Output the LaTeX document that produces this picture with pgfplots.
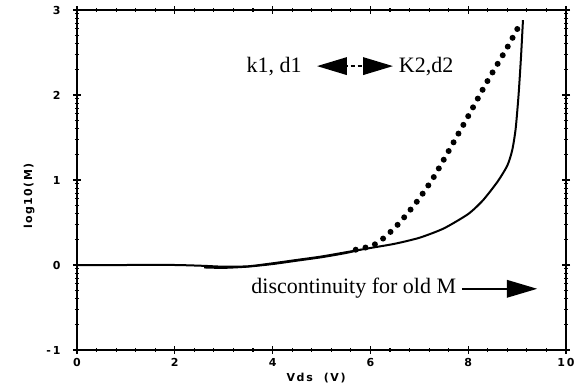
\documentclass[border=0pt]{standalone}
\usepackage{fontspec}
\setmainfont{Liberation Serif}
\setsansfont{DejaVu Sans}
\usepackage{pgfplots}
\pgfplotsset{compat=1.18}
\usetikzlibrary{arrows.meta}
\begin{document}
\begin{tikzpicture}
\path[use as bounding box] (-77pt,-36pt) rectangle (505pt,350pt);
\begin{axis}[
  at={(0,0)}, anchor=south west,
  scale only axis, width=489pt, height=340pt,
  xmin=0, xmax=10, ymin=-1, ymax=3,
  xtick={0,2,4,6,8,10}, xticklabels={0,2,4,6,8,{1\,0}},
  ytick={-1,0,1,2,3}, yticklabels={{-\,1},0,1,2,3},
  minor x tick num=4,
  minor ytick={-0.699,-0.523,-0.398,-0.301,-0.222,-0.155,-0.097,-0.046,
               0.301,0.477,0.602,0.699,0.778,0.845,0.903,0.954,
               1.301,1.477,1.602,1.699,1.778,1.845,1.903,1.954,
               2.301,2.477,2.602,2.699,2.778,2.845,2.903,2.954},
  tick align=center, major tick length=8pt, minor tick length=4pt,
  axis line style={line width=1.4pt},
  every tick/.style={line width=1.1pt, black},
  tick label style={font=\sffamily\bfseries\fontsize{11}{13}\selectfont},
  xticklabel style={yshift=-1pt},
  yticklabel style={xshift=-9pt},
  xlabel={\addfontfeature{LetterSpace=15}Vds\ \ (V)},
  ylabel={\addfontfeature{LetterSpace=12}log10(M)},
  label style={font=\sffamily\bfseries\fontsize{11}{13}\selectfont},
  xlabel style={at={(axis description cs:0.489,0)}, anchor=center, yshift=-28pt},
  ylabel style={at={(axis description cs:-0.098,0.453)}, anchor=center},
  clip=false,
]
\addplot[line width=2pt, smooth, tension=0.4] coordinates {
  (0,0) (1,0) (2,0) (2.6,-0.01) (3,-0.02) (3.5,-0.015) (4,0.02) (4.5,0.06)
  (5,0.1) (5.5,0.15) (6,0.2) (6.5,0.25) (7,0.32) (7.5,0.43) (8,0.6)
  (8.3,0.76) (8.6,0.98) (8.8,1.17) (8.9,1.35) (8.97,1.6) (9.03,2.0) (9.08,2.45) (9.12,2.88)
};
\addplot[line width=1.8pt, smooth, tension=0.4] coordinates {
  (2.6,-0.03) (3,-0.035) (3.5,-0.02) (4,0.01) (4.5,0.05) (5,0.09) (5.5,0.14) (5.8,0.18)
};
\addplot[line width=6pt, line cap=round, dash pattern=on 0pt off 10pt, smooth, tension=0.4] coordinates {
  (5.7,0.18) (6.05,0.23) (6.3,0.33) (6.6,0.5) (6.97,0.76) (7.28,1.02) (7.57,1.31)
  (7.98,1.73) (8.38,2.15) (8.79,2.55) (9.1,2.88)
};
\node[font=\fontsize{22}{24}\selectfont] at (axis cs:4.03,2.34) {k1, d1};
\node[font=\fontsize{22}{24}\selectfont] at (axis cs:7.14,2.34) {K2,d2};
\draw[line width=1.5pt, dash pattern=on 4pt off 3pt] (axis cs:5.45,2.34) -- (axis cs:5.95,2.34);
\fill (axis cs:4.91,2.34) -- (axis cs:5.52,2.446) -- (axis cs:5.52,2.234) -- cycle;
\fill (axis cs:6.46,2.34) -- (axis cs:5.85,2.446) -- (axis cs:5.85,2.234) -- cycle;
\node[font=\fontsize{22}{24}\selectfont] at (axis cs:5.66,-0.27) {discontinuity for old M};
\draw[line width=1.5pt] (axis cs:7.87,-0.28) -- (axis cs:8.85,-0.28);
\fill (axis cs:9.41,-0.28) -- (axis cs:8.79,-0.174) -- (axis cs:8.79,-0.386) -- cycle;
\end{axis}
\end{tikzpicture}
\end{document}
